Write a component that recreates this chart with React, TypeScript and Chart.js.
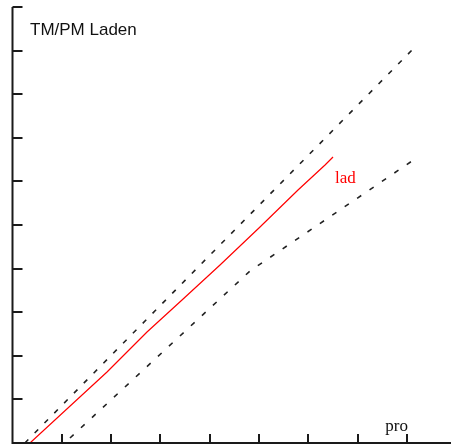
import React, { useEffect, useRef } from "react";
import { Chart, registerables } from "chart.js";

Chart.register(...registerables);

// ---- data ----
const xTickValues = [1, 2, 3, 4, 5, 6, 7, 8];
const yTickValues = [1, 2, 3, 4, 5, 6, 7, 8, 9, 10];

const ladX = [0.355, 1.917, 2.728, 3.438, 4.209, 5.02, 5.791, 6.339, 6.501];
const ladY = [0.0, 1.628, 2.546, 3.28, 4.083, 4.954, 5.803, 6.376, 6.56];

const upperX = [0.25, 8.164];
const upperY = [0.0, 9.083];

const lowerX = [1.166, 4.817, 8.164];
const lowerY = [0.115, 3.945, 6.514];

const titleText = "TM/PM Laden";
const xAxisLabel = "pro";
const seriesLabel = "lad";

const X_MIN = 0;
const X_MAX = 8.894;
const Y_MIN = 0;
const Y_MAX = 10;

const toPoints = (xs: number[], ys: number[]) => xs.map((x, i) => ({ x, y: ys[i] }));

const decorPlugin = {
  id: "decor",
  afterDraw(chart: any) {
    const { ctx, chartArea, scales } = chart;
    const xs = scales.x;
    const ys = scales.y;
    const left = chartArea.left;
    const bottom = chartArea.bottom;
    const top = ys.getPixelForValue(Y_MAX);
    ctx.save();
    ctx.strokeStyle = "#1a1a1a";
    ctx.lineWidth = 2;
    ctx.beginPath();
    ctx.moveTo(left, top);
    ctx.lineTo(left, bottom);
    ctx.lineTo(chart.width, bottom);
    ctx.stroke();
    // y ticks (inward)
    ctx.beginPath();
    yTickValues.forEach((v) => {
      const py = Math.round(ys.getPixelForValue(v)) + 0;
      ctx.moveTo(left, py);
      ctx.lineTo(left + 10, py);
    });
    // x ticks (inward)
    xTickValues.forEach((v) => {
      const px = Math.round(xs.getPixelForValue(v));
      ctx.moveTo(px, bottom);
      ctx.lineTo(px, bottom - 9);
    });
    ctx.stroke();

    // texts
    ctx.fillStyle = "#111";
    ctx.font = "17px 'Liberation Sans', Arial, sans-serif";
    ctx.textBaseline = "alphabetic";
    ctx.fillText(titleText, left + 17.5, top + 28);

    ctx.font = "17px 'Liberation Serif', 'Times New Roman', serif";
    ctx.fillText(xAxisLabel, xs.getPixelForValue(7.56), bottom - 12);

    const lx = xs.getPixelForValue(ladX[ladX.length - 1]);
    const ly = ys.getPixelForValue(ladY[ladY.length - 1]);
    ctx.fillStyle = "#ff0000";
    ctx.fillText(seriesLabel, lx + 2, ly + 26);
    ctx.restore();
  },
};

export default function App() {
  const canvasRef = useRef<HTMLCanvasElement | null>(null);

  useEffect(() => {
    if (!canvasRef.current) return;
    const chart = new Chart(canvasRef.current, {
      type: "scatter",
      data: {
        datasets: [
          {
            label: seriesLabel,
            data: toPoints(ladX, ladY),
            showLine: true,
            borderColor: "#ff0000",
            borderWidth: 1.2,
            pointRadius: 0,
            tension: 0,
          },
          {
            label: "upper",
            data: toPoints(upperX, upperY),
            showLine: true,
            borderColor: "#222222",
            borderWidth: 1.6,
            borderDash: [5, 9],
            pointRadius: 0,
          },
          {
            label: "lower",
            data: toPoints(lowerX, lowerY),
            showLine: true,
            borderColor: "#222222",
            borderWidth: 1.6,
            borderDash: [5, 10],
            pointRadius: 0,
          },
        ],
      },
      options: {
        animation: false,
        responsive: true,
        maintainAspectRatio: false,
        devicePixelRatio: 1,
        layout: { padding: { left: 12.5, top: 7, right: 0, bottom: 2 } },
        plugins: {
          legend: { display: false },
          tooltip: { enabled: false },
          title: { display: false },
        },
        scales: {
          x: { type: "linear", display: false, min: X_MIN, max: X_MAX },
          y: { type: "linear", display: false, min: Y_MIN, max: Y_MAX },
        },
      },
      plugins: [decorPlugin],
    });
    return () => chart.destroy();
  }, []);

  return (
    <div style={{ position: "fixed", left: 0, top: 0, width: 451, height: 445, background: "#fff" }}>
      <canvas ref={canvasRef} />
    </div>
  );
}
